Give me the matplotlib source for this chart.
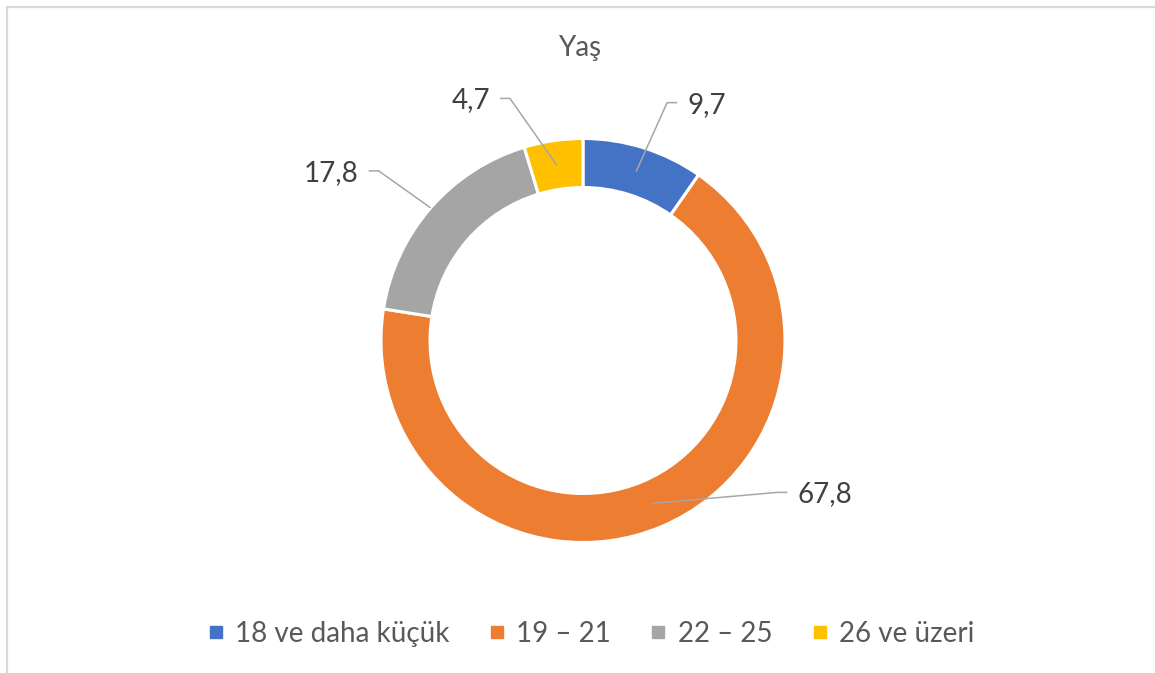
import numpy as np
import matplotlib
matplotlib.use("Agg")
import matplotlib.pyplot as plt
from matplotlib.lines import Line2D
from matplotlib.patches import Rectangle

# data
categories = ["18 ve daha küçük", "19 – 21", "22 – 25", "26 ve üzeri"]
values = [9.7, 67.8, 17.8, 4.7]
value_labels = ["9,7", "67,8", "17,8", "4,7"]
colors = ["#4472C4", "#ED7D31", "#A5A5A5", "#FFC000"]

plt.rcParams["font.family"] = ["Lato", "DejaVu Sans"]

W, H = 1155, 673
fig = plt.figure(figsize=(W / 100, H / 100), dpi=100)
ax = fig.add_axes([0, 0, 1, 1])

cx, cy = 583, H - 340.5
outer_r, ring_w = 202, 49

wedges, _ = ax.pie(
    values,
    colors=colors,
    startangle=90,
    counterclock=False,
    radius=outer_r,
    center=(cx, cy),
    wedgeprops=dict(width=ring_w, edgecolor="white", linewidth=2.2),
)
ax.set_xlim(0, W)
ax.set_ylim(0, H)
ax.set_aspect("equal")
ax.axis("off")

# leader lines + data labels (elbow offsets in pixels, per label)
anchor_r = [177, 177, 202, 177]
elbow = [(31, 69), (125, 11), (-52, 37), (-47, 67)]
for w, lab, ar, (dx, dy) in zip(wedges, value_labels, anchor_r, elbow):
    mid = np.deg2rad((w.theta1 + w.theta2) / 2)
    ax_x = cx + ar * np.cos(mid)
    ax_y = cy + ar * np.sin(mid)
    ex, ey = ax_x + dx, ax_y + dy
    side = 1 if dx > 0 else -1
    tx = ex + side * 10
    ax.plot([ax_x, ex, tx], [ax_y, ey, ey], color="#A6A6A6", lw=1.1,
            solid_capstyle="butt", zorder=5)
    ax.text(tx + side * 10, ey - 2, lab, fontsize=20, color="#404040",
            ha="left" if side > 0 else "right", va="center")

# title
fig.text(580 / W, 1 - 48 / H, "Yaş", fontsize=20, color="#595959",
         ha="center", va="center")

# legend
handles = [Line2D([], [], marker="s", linestyle="none", markersize=8.6,
                  markerfacecolor=c, markeredgecolor=c) for c in colors]
leg = fig.legend(handles, categories, loc="center",
                 bbox_to_anchor=(591 / W, 1 - 634 / H), ncol=4,
                 frameon=False, fontsize=20, handlelength=0.6,
                 handletextpad=0.4, columnspacing=1.4, borderpad=0)
for t in leg.get_texts():
    t.set_color("#595959")

# chart border
fig.patches.append(Rectangle((6.5, -50), W + 50, H - 6.5 + 50,
                             transform=None, fill=False,
                             edgecolor="#D9D9D9", linewidth=1.6))

fig.savefig("out.png", dpi=100, facecolor="white")
